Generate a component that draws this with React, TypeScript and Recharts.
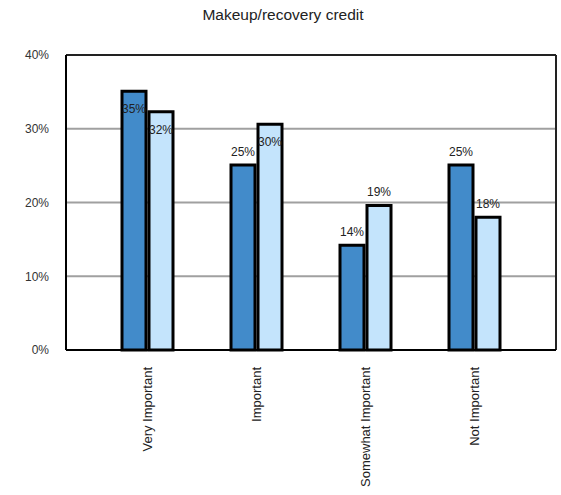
import { BarChart, Bar, XAxis, YAxis, CartesianGrid, LabelList } from 'recharts';

const categories = ['Very Important', 'Important', 'Somewhat Important', 'Not Important'];
const seriesA = [35.1, 25.1, 14.2, 25.1];
const seriesB = [32.3, 30.6, 19.6, 18.0];
const yTicks = [0, 10, 20, 30, 40];

const chartData = categories.map((name, i) => ({ name, a: seriesA[i], b: seriesB[i] }));

const FONT = '"Liberation Sans", Arial, sans-serif';

const XTick = ({ x, y, payload }: any) => (
  <g transform={`translate(${x},${y})`}>
    <text transform="rotate(-90)" textAnchor="end" dy="0.35em" fontSize={13} fill="#222" fontFamily={FONT}>
      {payload.value}
    </text>
  </g>
);

// labels on the tallest bars sit just inside the top, the rest above
const BarLabel = ({ x, y, width, value }: any) => {
  const ty = value >= 30 ? y + 18 : y - 13;
  return (
    <text x={x + width / 2} y={ty} textAnchor="middle" dominantBaseline="central" fontSize={12} fill="#222" fontFamily={FONT}>
      {`${Math.floor(value)}%`}
    </text>
  );
};

const App = () => {
  return (
    <div style={{ position: 'absolute', left: 0, top: 0, width: 561, height: 495, background: '#fff', fontFamily: FONT }}>
      <div style={{ position: 'absolute', left: 0, top: 7, width: 566, textAlign: 'center', fontSize: 15.5, lineHeight: '16px', color: '#222' }}>
        Makeup/recovery credit
      </div>
      <BarChart
        width={561}
        height={495}
        data={chartData}
        margin={{ top: 55, right: 5, left: 0, bottom: 0 }}
        barSize={24}
        barGap={3}
      >
        <CartesianGrid vertical={false} stroke="#a0a0a0" strokeWidth={2} />
        {/* top and right edges of the plot frame */}
        <CartesianGrid
          stroke="#222"
          strokeWidth={2}
          horizontalCoordinatesGenerator={({ offset }: any) => [offset.top]}
          verticalCoordinatesGenerator={({ offset }: any) => [offset.left + offset.width]}
        />
        <XAxis
          dataKey="name"
          height={145}
          axisLine={{ stroke: '#000', strokeWidth: 2 }}
          tickLine={false}
          tickSize={0}
          tickMargin={17}
          interval={0}
          padding={{ left: 27, right: 27 }}
          tick={<XTick />}
        />
        <YAxis
          width={66}
          domain={[0, 40]}
          ticks={yTicks}
          axisLine={{ stroke: '#000', strokeWidth: 2 }}
          tickLine={false}
          tickSize={0}
          tickMargin={17}
          tickFormatter={(v: number) => `${v}%`}
          tick={{ fontSize: 12, fill: '#333', fontFamily: FONT }}
        />
        <Bar dataKey="a" fill="#428bca" stroke="#000" strokeWidth={3} isAnimationActive={false}>
          <LabelList dataKey="a" content={<BarLabel />} />
        </Bar>
        <Bar dataKey="b" fill="#c4e4fc" stroke="#000" strokeWidth={3} isAnimationActive={false}>
          <LabelList dataKey="b" content={<BarLabel />} />
        </Bar>
      </BarChart>
    </div>
  );
};

export default App;
